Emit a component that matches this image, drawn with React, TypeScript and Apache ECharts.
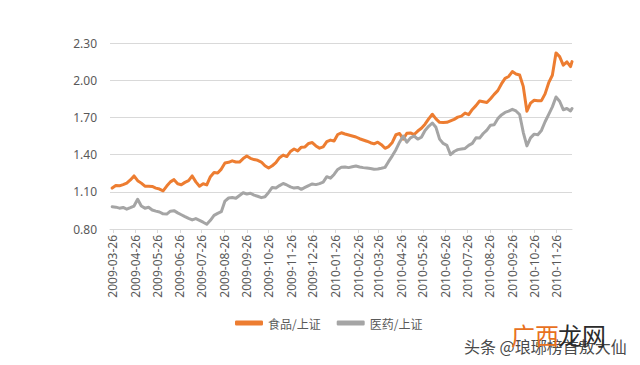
import React, { useEffect, useRef } from "react";
import * as echarts from "echarts";

const dates = [
  "2009-03-25","2009-03-30","2009-04-04","2009-04-09","2009-04-14","2009-04-19","2009-04-24","2009-04-29",
  "2009-05-04","2009-05-09","2009-05-14","2009-05-19","2009-05-24","2009-05-29","2009-06-03","2009-06-08",
  "2009-06-13","2009-06-18","2009-06-23","2009-06-28","2009-07-03","2009-07-08","2009-07-13","2009-07-18",
  "2009-07-23","2009-07-28","2009-08-02","2009-08-07","2009-08-12","2009-08-17","2009-08-22","2009-08-27",
  "2009-09-01","2009-09-06","2009-09-11","2009-09-16","2009-09-21","2009-09-26","2009-10-01","2009-10-06",
  "2009-10-11","2009-10-16","2009-10-21","2009-10-26","2009-10-31","2009-11-05","2009-11-10","2009-11-15",
  "2009-11-20","2009-11-25","2009-11-30","2009-12-05","2009-12-10","2009-12-15","2009-12-20","2009-12-25",
  "2009-12-30","2010-01-04","2010-01-09","2010-01-14","2010-01-19","2010-01-24","2010-01-29","2010-02-03",
  "2010-02-08","2010-02-13","2010-02-18","2010-02-23","2010-02-28","2010-03-05","2010-03-10","2010-03-15",
  "2010-03-20","2010-03-25","2010-03-30","2010-04-04","2010-04-09","2010-04-14","2010-04-19","2010-04-24",
  "2010-04-29","2010-05-04","2010-05-09","2010-05-14","2010-05-19","2010-05-24","2010-05-29","2010-06-03",
  "2010-06-08","2010-06-13","2010-06-18","2010-06-23","2010-06-28","2010-07-03","2010-07-08","2010-07-13",
  "2010-07-18","2010-07-23","2010-07-28","2010-08-02","2010-08-07","2010-08-12","2010-08-17","2010-08-22",
  "2010-08-27","2010-09-01","2010-09-06","2010-09-11","2010-09-16","2010-09-21","2010-09-26","2010-10-01",
  "2010-10-06","2010-10-11","2010-10-16","2010-10-21","2010-10-26","2010-10-31","2010-11-05","2010-11-10",
  "2010-11-15","2010-11-20","2010-11-25","2010-11-30","2010-12-05","2010-12-10","2010-12-15","2010-12-17",
];

const foodRatio = [
  1.13, 1.15, 1.148, 1.158, 1.17, 1.196, 1.228, 1.19, 1.17, 1.145,
  1.145, 1.143, 1.13, 1.122, 1.108, 1.146, 1.18, 1.198, 1.165, 1.157,
  1.176, 1.19, 1.228, 1.18, 1.145, 1.165, 1.156, 1.222, 1.256, 1.252,
  1.283, 1.333, 1.338, 1.35, 1.34, 1.34, 1.368, 1.388, 1.37, 1.36,
  1.354, 1.34, 1.31, 1.292, 1.31, 1.335, 1.375, 1.396, 1.384, 1.425,
  1.445, 1.43, 1.46, 1.462, 1.49, 1.497, 1.47, 1.452, 1.462, 1.504,
  1.517, 1.51, 1.562, 1.576, 1.566, 1.558, 1.55, 1.542, 1.528, 1.518,
  1.508, 1.496, 1.487, 1.5, 1.48, 1.451, 1.465, 1.498, 1.56, 1.57,
  1.525, 1.572, 1.575, 1.562, 1.59, 1.612, 1.645, 1.688, 1.725, 1.688,
  1.66, 1.658, 1.66, 1.672, 1.684, 1.702, 1.71, 1.735, 1.722, 1.764,
  1.795, 1.832, 1.826, 1.82, 1.85, 1.886, 1.916, 1.97, 2.015, 2.03,
  2.07, 2.05, 2.042, 1.95, 1.75, 1.815, 1.838, 1.835, 1.835, 1.89,
  1.98, 2.04, 2.22, 2.19, 2.122, 2.148, 2.11, 2.15,
];

const pharmaRatio = [
  0.98, 0.976, 0.968, 0.974, 0.96, 0.972, 0.985, 1.04, 0.985, 0.968,
  0.975, 0.953, 0.944, 0.937, 0.922, 0.92, 0.944, 0.948, 0.93, 0.915,
  0.9, 0.886, 0.873, 0.884, 0.87, 0.855, 0.838, 0.87, 0.91, 0.926,
  0.94, 1.025, 1.05, 1.054, 1.048, 1.07, 1.092, 1.082, 1.088, 1.073,
  1.064, 1.053, 1.06, 1.095, 1.135, 1.13, 1.15, 1.167, 1.155, 1.14,
  1.13, 1.135, 1.12, 1.135, 1.15, 1.163, 1.158, 1.166, 1.178, 1.222,
  1.21, 1.24, 1.28, 1.298, 1.3, 1.295, 1.302, 1.308, 1.3, 1.295,
  1.292, 1.288, 1.282, 1.284, 1.29, 1.297, 1.345, 1.39, 1.44, 1.5,
  1.55, 1.5, 1.535, 1.55, 1.525, 1.54, 1.595, 1.628, 1.655, 1.62,
  1.525, 1.49, 1.475, 1.4, 1.425, 1.44, 1.445, 1.45, 1.474, 1.49,
  1.535, 1.533, 1.57, 1.598, 1.637, 1.64, 1.69, 1.72, 1.74, 1.75,
  1.765, 1.752, 1.723, 1.58, 1.47, 1.535, 1.565, 1.56, 1.595, 1.665,
  1.725, 1.785, 1.865, 1.83, 1.762, 1.772, 1.752, 1.772,
];

const xTickDates = [
  "2009-03-26","2009-04-26","2009-05-26","2009-06-26","2009-07-26","2009-08-26","2009-09-26",
  "2009-10-26","2009-11-26","2009-12-26","2010-01-26","2010-02-26","2010-03-26","2010-04-26",
  "2010-05-26","2010-06-26","2010-07-26","2010-08-26","2010-09-26","2010-10-26","2010-11-26",
];

const yTicks = [0.8, 1.1, 1.4, 1.7, 2.0, 2.3];

const seriesNames = ["食品/上证", "医药/上证"];

function toTs(s: string): number {
  const [y, m, d] = s.split("-").map(Number);
  return Date.UTC(y, m - 1, d);
}

function fmtDate(v: number): string {
  const dt = new Date(v);
  const p = (n: number) => (n < 10 ? "0" + n : "" + n);
  return dt.getUTCFullYear() + "-" + p(dt.getUTCMonth() + 1) + "-" + p(dt.getUTCDate());
}

export default function App() {
  const ref = useRef<HTMLDivElement>(null);
  useEffect(() => {
    if (!ref.current) return;
    const chart = echarts.init(ref.current, undefined, { renderer: "svg" });
    const xTickTs = xTickDates.map(toTs);
    chart.setOption({
      animation: false,
      backgroundColor: "#ffffff",
      grid: { left: 110, right: 68, top: 43, bottom: 136 },
      legend: {
        left: 230,
        top: 312,
        itemGap: 16,
        itemWidth: 28,
        itemHeight: 5,
        icon: "roundRect",
        textStyle: { color: "#595959", fontSize: 12, fontFamily: "Noto Sans CJK SC" },
        data: seriesNames,
      },
      xAxis: {
        type: "value",
        min: toTs("2009-03-22"),
        max: toTs("2010-12-17"),
        axisLine: { show: true, lineStyle: { color: "#d9d9d9", width: 1 } },
        axisTick: { show: true, length: 4, lineStyle: { color: "#d9d9d9" }, customValues: xTickTs },
        axisLabel: {
          rotate: 90,
          margin: 6,
          color: "#595959",
          fontSize: 12,
          fontFamily: "Noto Sans",
          customValues: xTickTs,
          formatter: (v: number) => fmtDate(v),
        },
        splitLine: { show: false },
      },
      yAxis: {
        type: "value",
        min: 0.8,
        max: 2.3,
        axisLine: { show: false },
        axisTick: { show: false, customValues: yTicks },
        axisLabel: {
          margin: 13,
          color: "#595959",
          fontSize: 12,
          fontFamily: "Noto Sans",
          customValues: yTicks,
          formatter: (v: number) => v.toFixed(2),
        },
        splitLine: { show: true, lineStyle: { color: "#d9d9d9", width: 1 } },
      },
      series: [
        {
          name: seriesNames[0],
          type: "line",
          showSymbol: false,
          symbol: "none",
          color: "#ED7D31",
          lineStyle: { width: 3, color: "#ED7D31", cap: "round", join: "round" },
          data: dates.map((d, i) => [toTs(d), foodRatio[i]]),
        },
        {
          name: seriesNames[1],
          type: "line",
          showSymbol: false,
          symbol: "none",
          color: "#A5A5A5",
          lineStyle: { width: 3, color: "#A5A5A5", cap: "round", join: "round" },
          data: dates.map((d, i) => [toTs(d), pharmaRatio[i]]),
        },
      ],
      graphic: [
        {
          type: "text",
          left: 464,
          top: 338,
          style: {
            text: "头条 @琅琊榜首敖大仙",
            fill: "#4a4a4a",
            font: "16px 'Noto Sans CJK SC'",
          },
        },
        {
          type: "text",
          left: 511,
          top: 322,
          style: {
            text: "广西",
            fill: "#E8711E",
            font: "24px 'Noto Sans CJK SC'",
          },
        },
        {
          type: "text",
          left: 558,
          top: 322,
          style: {
            text: "龙网",
            fill: "#2b2b2b",
            font: "24px 'Noto Sans CJK SC'",
          },
        },
      ],
    });
    return () => chart.dispose();
  }, []);
  return (
    <div
      ref={ref}
      style={{ position: "absolute", left: 0, top: 0, width: 640, height: 365, background: "#fff" }}
    />
  );
}
